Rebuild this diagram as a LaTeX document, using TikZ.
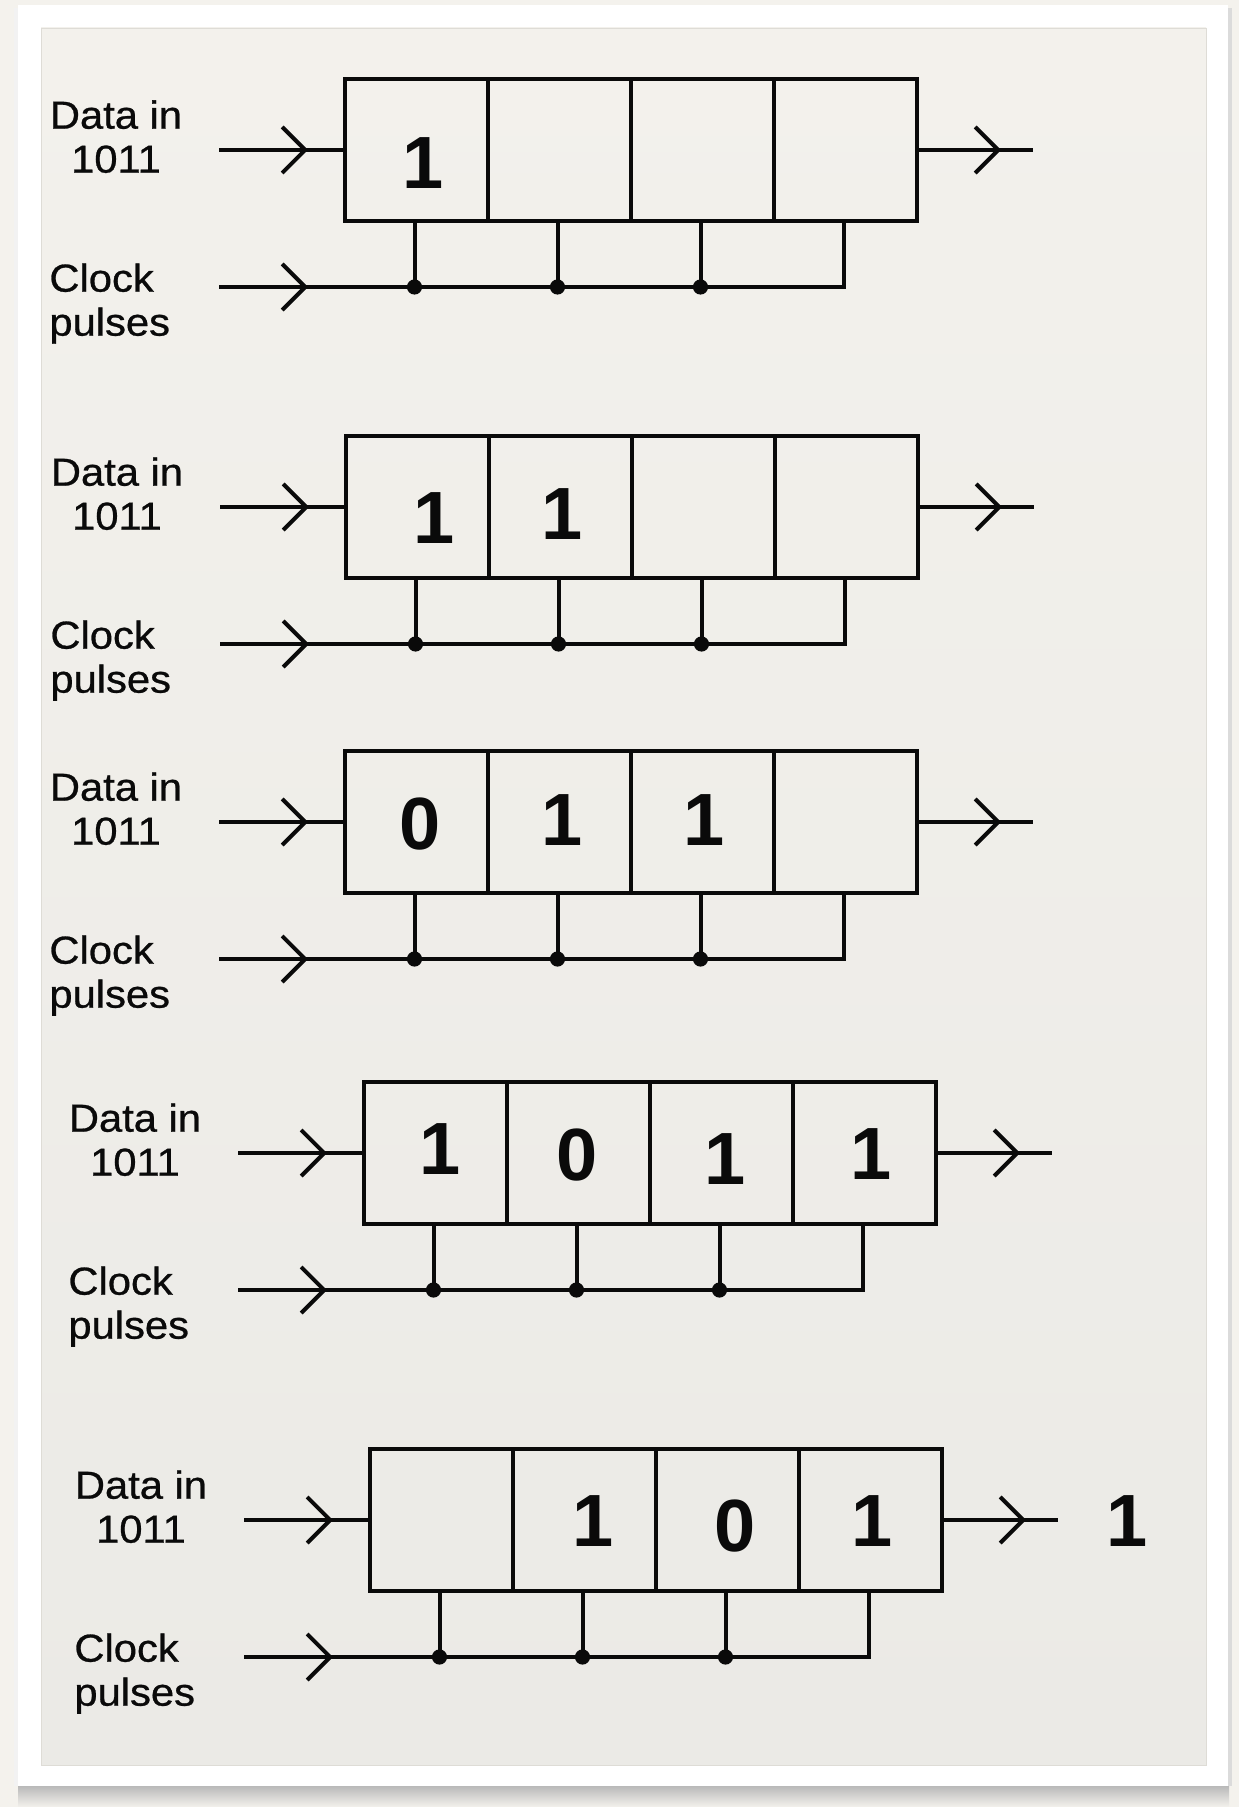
\documentclass[tikz,border=0pt]{standalone}
\usepackage{fontspec}
\setmainfont{Liberation Sans}
\newfontfamily\labelfont{Liberation Sans}[FakeStretch=1.07, FakeBold=0.7]
\newfontfamily\bitfont{Liberation Sans}
\usetikzlibrary{arrows.meta,decorations.markings}
\definecolor{paper}{RGB}{244,242,237}
\definecolor{cardtop}{RGB}{243,241,236}
\definecolor{cardbot}{RGB}{235,234,230}
\definecolor{cardedge}{RGB}{222,220,214}
\definecolor{ink}{RGB}{10,10,10}

\begin{document}
\begin{tikzpicture}[x=0.5pt, y=-0.5pt,
    wire/.style={ink, line width=2pt},
    cell/.style={draw=ink, line width=2.1pt, minimum width=71.5pt,
      minimum height=71pt, inner sep=0pt, outer sep=0pt},
    lbl/.style={ink, inner sep=0pt, font=\labelfont\fontsize{19.5}{22}\selectfont},
    bit/.style={ink, inner sep=0pt, font=\bitfont\bfseries\fontsize{37}{40}\selectfont},
    midarrow/.style={postaction=decorate, decoration={markings,
      mark=at position #1 with {\arrow{Straight Barb[length=11.5pt,width=23pt]}}}}]

\useasboundingbox (0,0) rectangle (1239,1807);

% paper and card
\fill[paper] (0,0) rectangle (1239,1807);
\shade[top color=gray!55, bottom color=paper] (18,1786) rectangle (1229,1807);
\fill[gray!28] (1228,8) rectangle (1232,1786);
\fill[gray!10] (14,8) rectangle (18,1786);
\fill[white] (18,5) rectangle (1228,1786);
\shade[top color=cardtop, bottom color=cardbot, draw=cardedge] (41,28) rectangle (1206,1765);

% shift registers
\foreach \p/\lx/\cy in {1/345/150, 2/346/507, 3/345/822, 4/364/1153, 5/370/1520}{
  \pgfmathsetmacro{\dx}{\lx-345}
  \pgfmathsetmacro{\ky}{\cy+137}
  \node[lbl, align=center, anchor=north] (dl\p) at ({116+\dx},{\cy-50}) {Data in\\1011};
  \node[lbl, align=left, anchor=north west] (cl\p) at ({49+\dx},{\cy+113}) {Clock\\pulses};
  \foreach \i in {1,...,4}{
    \node[cell] (c\p-\i) at ({\lx+143*\i-71.5},\cy) {};
    \coordinate (k\p-\i) at ({\lx+143*\i-73.5},\ky);
  }
  \coordinate (din\p) at ({\lx-126},\cy);
  \coordinate (clk\p) at ({\lx-126},\ky);
  \coordinate (dout\p) at ({\lx+688},\cy);
  \draw[wire, midarrow=44.5pt] (din\p) -- (c\p-1.west);
  \draw[wire, midarrow=42pt] (c\p-4.east) -- (dout\p);
  \draw[wire, midarrow=44.5pt] (clk\p) -- (k\p-4) -- (c\p-4.south -| k\p-4);
  \foreach \i in {1,2,3}{
    \draw[wire] (c\p-\i.south -| k\p-\i) -- (k\p-\i);
    \fill[ink] (k\p-\i) circle[radius=3.8pt];
  }
}

% contents
\node[bit] (b1-1) at (423,163) {1};
\node[bit] (b2-1) at (434,518) {1};
\node[bit] (b2-2) at (562,514) {1};
\node[bit] (b3-1) at (420,824) {0};
\node[bit] (b3-2) at (562,820) {1};
\node[bit] (b3-3) at (704,820) {1};
\node[bit] (b4-1) at (440,1149) {1};
\node[bit] (b4-2) at (577,1155) {0};
\node[bit] (b4-3) at (725,1159) {1};
\node[bit] (b4-4) at (871,1154) {1};
\node[bit] (b5-2) at (593,1521) {1};
\node[bit] (b5-3) at (735,1526) {0};
\node[bit] (b5-4) at (872,1521) {1};
\node[bit] (out5) at (1127,1521) {1};

\end{tikzpicture}
\end{document}
